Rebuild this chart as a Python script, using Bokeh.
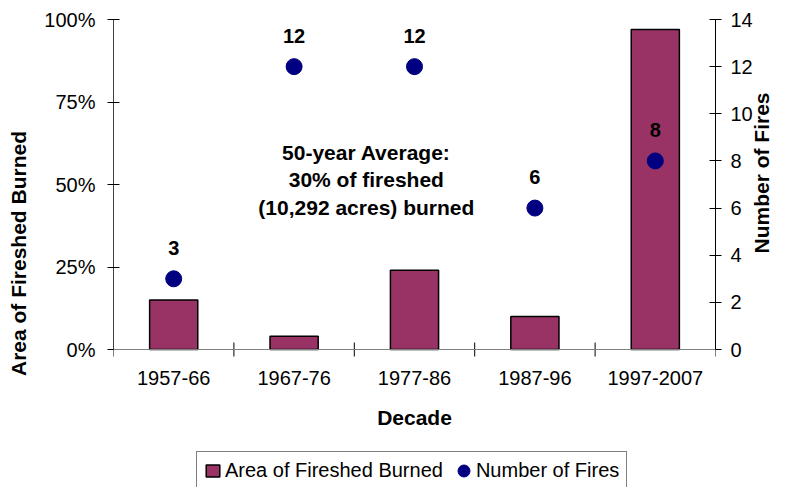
import math
from bokeh.plotting import figure
from bokeh.models import (Range1d, LinearAxis, FixedTicker, NumeralTickFormatter,
                          Legend, LegendItem, Label, Span, ColumnDataSource)
from bokeh.core.properties import value
from bokeh.embed import file_html
from bokeh.resources import INLINE

# ---- data ----
decades = ["1957-66", "1967-76", "1977-86", "1987-96", "1997-2007"]
area_burned = [0.15, 0.04, 0.24, 0.10, 0.97]
num_fires = [3, 12, 12, 6, 8]
pct_ticks = [0, 0.25, 0.5, 0.75, 1.0]
fire_ticks = [0, 2, 4, 6, 8, 10, 12, 14]
annotation_lines = ["50-year Average:", "30% of fireshed", "(10,292 acres) burned"]
x_title = "Decade"

FONT = "Liberation Sans"
BAR_COLOR = "#993366"
DOT_COLOR = "#000080"

# layout (pixels)
W, H = 788, 487
LEFT, RIGHT, TOP = 113, 73, 19
PLOT_H = 330            # height of the 0..100% span
BELOW = H - TOP - PLOT_H  # room below the zero line, kept inside the frame
neg = BELOW / PLOT_H

FIRE_MAX = 14
xpos = list(range(len(decades)))
src = ColumnDataSource(dict(x=xpos, area=area_burned, fires=num_fires,
                            lbl=[str(v) for v in num_fires]))
xsrc = ColumnDataSource(dict(x=xpos, y=[0] * len(decades), name=decades))
bsrc = ColumnDataSource(dict(b=[i - 0.5 for i in range(len(decades) + 1)]))

p = figure(width=W, height=H, output_backend="svg", toolbar_location=None,
           x_range=Range1d(-0.5, len(decades) - 0.5), y_range=Range1d(-neg, 1),
           x_axis_location=None,
           min_border_left=LEFT, min_border_right=RIGHT, min_border_top=TOP,
           min_border_bottom=0)
p.extra_y_ranges = {"fires": Range1d(-neg * FIRE_MAX, FIRE_MAX)}
p.outline_line_color = None
p.grid.visible = False
p.background_fill_color = "white"
p.border_fill_color = "white"

# left axis
ya = p.yaxis[0]
ya.ticker = FixedTicker(ticks=pct_ticks)
ya.formatter = NumeralTickFormatter(format="0%")
ya.bounds = (0, 1)
ya.major_tick_in = 6
ya.major_tick_out = 6
ya.minor_tick_line_color = None
ya.major_tick_line_color = "black"
ya.axis_line_color = "#404040"
ya.major_label_text_font = FONT
ya.major_label_text_font_size = "20px"
ya.major_label_text_color = "black"
ya.major_label_standoff = 12
ya.axis_label = "Area of Fireshed Burned"
ya.axis_label_text_font = FONT
ya.axis_label_text_font_size = "21px"
ya.axis_label_text_font_style = "bold"
ya.axis_label_text_color = "black"
ya.axis_label_standoff = 11

# right axis
ra = LinearAxis(y_range_name="fires", ticker=FixedTicker(ticks=fire_ticks),
                bounds=(0, FIRE_MAX))
ra.major_tick_in = 6
ra.major_tick_out = 6
ra.minor_tick_line_color = None
ra.major_tick_line_color = "black"
ra.axis_line_color = "black"
ra.major_label_text_font = FONT
ra.major_label_text_font_size = "20px"
ra.major_label_text_color = "black"
ra.major_label_standoff = 9
ra.axis_label = "Number of Fires"
ra.axis_label_text_font = FONT
ra.axis_label_text_font_size = "21px"
ra.axis_label_text_font_style = "bold"
ra.axis_label_text_color = "black"
ra.axis_label_standoff = 6
if hasattr(ra, "axis_label_orientation"):
    ra.axis_label_orientation = math.pi / 2   # read bottom-to-top
p.add_layout(ra, "right")

# category axis drawn at the zero line
p.add_layout(Span(location=0, dimension="width", line_color="#808080", line_width=1))
tick_half = 7 / PLOT_H
p.segment(x0="b", y0=-tick_half, x1="b", y1=tick_half, source=bsrc,
          line_color="black", line_width=1)
p.text(x="x", y="y", text="name", source=xsrc, y_offset=28,
       text_align="center", text_baseline="middle", text_font=value(FONT),
       text_font_size="20px", text_color="black")
p.text(x=[(len(decades) - 1) / 2], y=[0], text=[x_title], y_offset=68,
       text_align="center", text_baseline="middle", text_font=value(FONT),
       text_font_size="21px", text_font_style="bold", text_color="black")

# bars and dots
bars = p.vbar(x="x", top="area", width=0.4, source=src, fill_color=BAR_COLOR,
              line_color="black", line_width=1.5)
dots = p.ellipse(x="x", y="fires", width=16, height=16, width_units="screen",
                 height_units="screen", source=src, y_range_name="fires",
                 fill_color=DOT_COLOR, line_color=DOT_COLOR)
p.text(x="x", y="fires", text="lbl", source=src, y_range_name="fires",
       y_offset=-31, text_align="center", text_baseline="middle",
       text_font=value(FONT), text_font_size="20px", text_font_style="bold",
       text_color="black")

# annotation text
ann_y = [0.598, 0.514, 0.431]
for line, yy in zip(annotation_lines, ann_y):
    p.add_layout(Label(x=1.6, y=yy, text=line, text_align="center",
                       text_baseline="middle", text_font=FONT,
                       text_font_size="21px", text_font_style="bold",
                       text_color="black"))

legend = Legend(items=[LegendItem(label="Area of Fireshed Burned", renderers=[bars]),
                       LegendItem(label="Number of Fires", renderers=[dots])],
                location=(83, -3), orientation="horizontal",
                label_text_font=FONT, label_text_font_size="20px",
                label_text_color="black", glyph_width=17, glyph_height=15,
                label_standoff=4, spacing=12, padding=7,
                border_line_color="black", border_line_width=1,
                background_fill_color="white", background_fill_alpha=1.0)
p.add_layout(legend, "center")

open("out.html", "w").write(file_html(p, INLINE))
